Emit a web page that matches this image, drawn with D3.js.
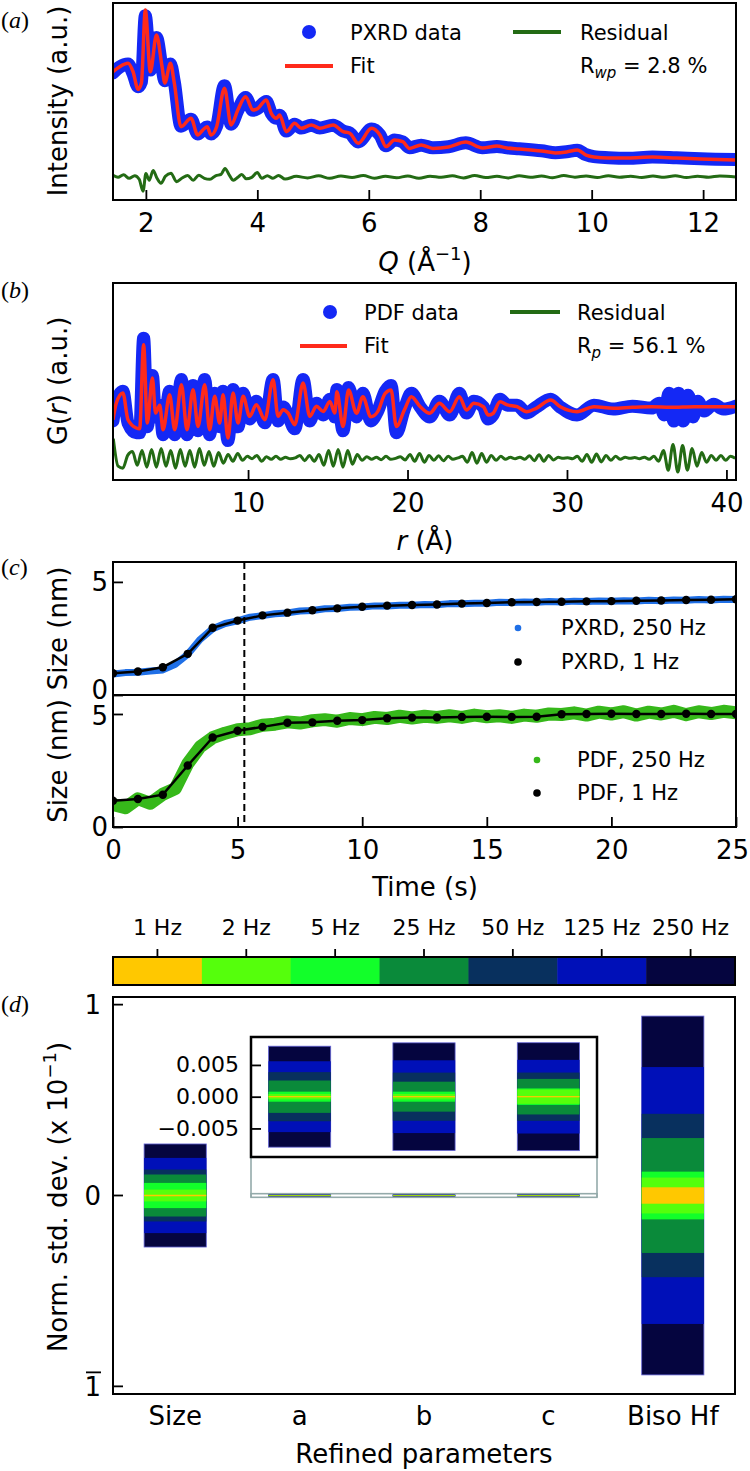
<!DOCTYPE html>
<html><head><meta charset="utf-8">
<script src="https://cdn.jsdelivr.net/npm/d3@7"></script>
<style>body{margin:0;background:#fff}svg{display:block}text{font-family:"DejaVu Sans",sans-serif;fill:#000}</style>
</head><body><svg id="c" width="750" height="1471"></svg>
<script>
// ---------------- DATA ----------------
// (a) PXRD
const pxrdQ = [1.41,1.53,1.68,1.77,1.86,1.92,1.99,2.08,2.19,2.29,2.34,2.44,2.51,2.63,2.81,2.93,3.02,3.10,3.17,3.27,3.41,3.53,3.65,3.79,3.92,4.01,4.16,4.25,4.34,4.40,4.52,4.67,4.79,4.97,5.12,5.36,5.54,5.66,5.81,6.05,6.20,6.31,6.46,6.61,6.73,6.94,7.15,7.43,7.74,8.04,8.30,8.48,8.70,8.91,9.10,9.35,9.55,9.74,9.90,10.04,10.30,10.65,11.09,11.52,11.96,12.59];
const pxrdFit = [65.1,67.7,69.4,65.1,56.2,59.4,96.4,65.1,83.8,67.7,59.4,69.4,59.4,37.2,41.5,33.0,35.5,37.2,33.0,37.2,56.7,38.1,45.7,52.4,45.7,46.5,50.8,44.0,41.5,43.1,34.7,38.9,36.4,38.1,36.4,38.1,34.7,33.9,28.8,36.4,33.0,27.1,30.5,29.6,26.2,27.9,26.2,26.9,29.4,26.4,27.4,26.4,25.9,25.4,24.9,23.9,24.4,25.4,22.8,21.8,21.3,21.3,21.8,21.3,20.8,20.3];
const pxrdObs = [64.5,67.5,69.0,64.0,57.5,60.0,93.5,66.0,82.5,67.0,60.5,69.0,60.0,37.5,41.0,33.5,35.5,37.0,33.5,37.5,58.0,38.5,45.5,52.0,45.5,46.5,50.0,44.0,41.5,43.0,35.0,38.5,36.5,38.0,36.5,38.0,35.0,34.0,29.5,36.0,33.0,27.5,30.5,29.5,26.5,27.8,26.5,27.0,29.0,26.5,27.2,26.5,26.0,25.5,25.0,24.0,24.5,25.2,23.0,22.0,21.5,21.2,21.8,21.4,20.9,20.5];
const pxrdResQ = [1.41,1.5,1.6,1.7,1.8,1.88,1.95,2.0,2.06,2.13,2.2,2.27,2.35,2.45,2.55,2.65,2.75,2.85,2.95,3.05,3.15,3.25,3.35,3.42,3.5,3.57,3.65,3.72,3.8,3.9,4.0,4.08,4.18,4.28,4.38,4.5,4.7,4.9,5.1,5.3,5.5,5.7,5.9,6.1,6.3,6.5,6.7,6.9,7.1,7.3,7.5,7.7,7.9,8.1,8.3,8.5,8.7,8.9,9.1,9.3,9.5,9.7,9.9,10.1,10.3,10.5,10.7,10.9,11.1,11.3,11.5,11.7,11.9,12.1,12.3,12.59];
const pxrdRes = [12.5,11.5,12.8,11.0,12.3,10.5,4.5,13.5,10.0,15.0,11.0,8.5,12.0,13.6,9.3,11.2,12.5,10.0,12.6,11.0,10.5,12.3,13.0,16.0,12.5,10.0,11.5,13.0,10.8,11.5,14.0,11.0,12.3,11.0,12.5,10.6,12.0,11.2,12.3,11.0,12.2,11.4,12.4,11.1,12.0,11.3,12.2,11.0,12.1,11.5,12.3,11.2,12.4,11.4,12.0,11.2,12.3,11.5,12.2,11.3,12.4,11.6,12.2,11.4,12.3,11.6,12.1,11.4,12.2,11.5,12.3,11.4,12.1,11.6,12.2,11.7];
const pxrdTicks = [2,4,6,8,10,12];

// (b) PDF
const pdfFitR = [1.53,1.74,2.15,2.47,2.99,3.2,3.45,3.68,4.0,4.2,4.46,4.67,5.08,5.4,5.82,6.17,6.55,6.86,7.28,7.59,7.91,8.22,8.43,8.74,9.06,9.37,9.69,10.1,10.52,11.05,11.57,11.88,12.2,12.51,12.93,13.45,13.87,14.29,14.71,15.13,15.44,15.57,15.96,16.3,16.8,17.2,17.7,18.13,18.6,18.97,19.3,19.8,20.24,20.8,21.4,22.0,22.65,23.25,23.7,24.16,24.76,25.06,25.36,25.8,26.26,26.87,27.47,28.07,28.98,29.58,30.63,31.69,32.9,34.1,35.3,36.5,38.0,40.6];
const pdfFitG = [30.6,39.1,44.2,30.6,26.4,26.0,68.7,28.9,51.8,34.0,38.0,25.5,43.3,25.5,48.4,25.5,45.8,27.2,48.4,25.5,42.5,28.9,43.3,21.3,44.2,28.9,42.5,32.3,38.2,30.6,50.9,32.3,35.7,34.0,28.1,49.2,32.3,37.4,34.8,39.9,34.0,44.8,27.1,45.7,33.9,42.3,32.1,34.7,44.0,45.7,27.1,35.5,42.3,37.2,33.9,38.9,34.7,42.3,35.5,38.9,37.2,33.0,33.8,39.7,38.1,37.2,34.7,36.4,40.6,37.2,34.7,37.2,36.4,36.9,37.2,36.9,37.2,37.2];
const pdfObsR = [1.53,1.74,2.15,2.47,2.99,3.2,3.45,3.68,4.0,4.2,4.46,4.67,5.08,5.4,5.82,6.17,6.55,6.86,7.28,7.59,7.91,8.22,8.43,8.74,9.06,9.37,9.69,10.1,10.52,11.05,11.57,11.88,12.2,12.51,12.93,13.45,13.87,14.29,14.71,15.13,15.44,15.57,15.96,16.3,16.8,17.2,17.7,18.13,18.6,18.97,19.3,19.8,20.24,20.8,21.4,22.0,22.65,23.25,23.7,24.16,24.76,25.06,25.36,25.8,26.26,26.87,27.47,28.07,28.98,29.58,30.63,31.69,32.9,34.1,35.3,35.8,36.1,36.4,36.7,37.0,37.3,37.6,37.9,38.2,38.6,39.2,39.8,40.6];
const pdfObsG = [30,40,45,29,24,24,72,27,53,32,38,23,45,23,51,23,48,25,51,23,44,27,45,20,46,27,44,31,40,29,51,30,37,33,26,51,30,39,33,41,32,46,25,47,32,44,30,35,45,48,24,36,44,37,32,40,33,44,34,40,37,31,33,41,38,38,34,37,41,37,33,38,36,37.5,36.5,39,33,44,30,44,30,43,32,40,35,38.5,36,37.5];
const pdfResStart = 1.55, pdfResStep = 0.3;
const pdfRes = [21.0,7.0,6.0,12.5,14.5,7.5,15.0,6.5,15.5,6.5,16.0,7.0,15.0,6.0,15.5,7.0,15.0,6.5,16.0,7.5,14.5,7.0,14.0,8.5,13.0,9.5,13.5,10.0,12.0,10.8,12.5,9.5,11.8,10.5,12.0,10.5,11.5,10.8,11.2,12.5,9.8,12.5,9.5,13.0,7.5,15.0,7.0,15.5,6.5,15.0,8.0,13.0,10.0,11.8,10.5,11.5,10.3,12.0,10.5,11.0,11.8,10.2,13.0,9.5,13.5,9.0,12.5,10.0,12.3,9.8,12.0,10.5,11.2,12.0,9.0,14.0,8.5,13.5,9.0,12.5,10.0,12.0,10.5,11.5,10.8,11.6,10.5,12.3,9.8,12.8,9.5,12.5,10.2,11.5,11.0,11.3,10.8,12.0,9.5,13.0,9.0,13.2,9.2,12.5,10.0,12.0,10.5,11.5,11.0,11.4,10.8,11.6,10.5,12.0,9.5,15.0,5.0,18.0,4.0,17.5,5.0,16.0,7.0,14.0,9.0,12.5,10.0,12.5,10.0,12.0,11.0];
const pdfTicks = [10,20,30,40];

// (c) size vs time
const time1Hz = [0,1,2,3,4,5,6,7,8,9,10,11,12,13,14,15,16,17,18,19,20,21,22,23,24,25];
const pxrd1Hz = [0.96,1.04,1.23,1.82,2.97,3.29,3.52,3.64,3.75,3.83,3.90,3.95,3.98,4.00,4.04,4.07,4.10,4.11,4.12,4.14,4.15,4.17,4.18,4.20,4.21,4.23];
const pdf1Hz = [1.16,1.24,1.43,2.72,3.96,4.26,4.43,4.61,4.63,4.70,4.73,4.81,4.84,4.85,4.87,4.88,4.87,4.88,4.99,5.00,5.01,5.00,5.00,5.01,5.00,5.00];
const fastStart = 0, fastStep = 0.5;
const pxrd250Hz = [0.93,0.99,1.01,1.06,1.11,1.36,1.80,2.46,2.93,3.16,3.28,3.44,3.51,3.59,3.63,3.71,3.74,3.81,3.82,3.88,3.89,3.94,3.94,3.97,3.97,4.00,3.99,4.04,4.03,4.06,4.06,4.10,4.09,4.11,4.10,4.13,4.11,4.15,4.13,4.16,4.14,4.17,4.16,4.19,4.17,4.20,4.19,4.22,4.20,4.23,4.22];
const pdf250Hz = [1.0,0.85,1.25,1.05,1.45,1.7,2.8,3.55,3.95,4.15,4.3,4.35,4.5,4.55,4.65,4.6,4.7,4.75,4.68,4.8,4.75,4.85,4.8,4.9,4.82,4.9,4.85,4.92,4.85,4.95,4.88,4.92,4.85,4.95,4.9,5.0,4.98,5.05,4.95,5.08,5.0,5.1,4.95,5.08,5.0,5.12,4.97,5.1,5.02,5.12,5.05];
const timeTicks = [0,5,10,15,20,25];
const dashedTime = 5.27;

// colorbar / (d)
const freqs = ["1 Hz","2 Hz","5 Hz","25 Hz","50 Hz","125 Hz","250 Hz"];
const freqColors = ["#ffc800","#55ff0c","#12ff2a","#0a8a3a","#08305e","#0010b8","#05053f"];
const params = ["Size","a","b","c","Biso Hf"];
const stdSize = [0.004,0.031,0.066,0.110,0.136,0.197,0.270];
const stdA = [0.0001,0.00042,0.00079,0.00255,0.00387,0.00558,0.00795];
const stdB = [0.0001,0.00042,0.00079,0.00236,0.00379,0.00573,0.00848];
const stdC = [0.0001,0.00113,0.0013,0.0028,0.0038,0.0058,0.0085];
const stdBiso = [0.043,0.094,0.125,0.301,0.428,0.673,0.940];
const insetTicks = [-0.005,0,0.005];

// ---------------- DRAWING ----------------
const svg = d3.select('#c');
const FS = 26, LFS = 21;
const L = 113, R = 736;
const BLUE = "#1428f5", RED = "#ff2a1a", DGREEN = "#236b14";

function clip(id, x0, y0, x1, y1) {
  svg.append('clipPath').attr('id', id).append('rect')
    .attr('x', x0).attr('y', y0).attr('width', x1 - x0).attr('height', y1 - y0);
}
function frame(x0, y0, x1, y1, w) {
  svg.append('rect').attr('x', x0).attr('y', y0).attr('width', x1 - x0).attr('height', y1 - y0)
    .attr('fill', 'none').attr('stroke', '#000').attr('stroke-width', w || 2);
}
function styleAxis(g, fs) {
  g.select('.domain').remove();
  g.attr('font-family', null).attr('font-size', null);
  g.selectAll('text').attr('font-size', fs).style('font-family', '"DejaVu Sans"');
  g.selectAll('line').attr('stroke', '#000').attr('stroke-width', 1.8);
}
function letter(txt, x, y) {
  const t = svg.append('text').attr('x', x).attr('y', y).attr('font-size', 24)
    .style('font-family', '"Liberation Serif",serif');
  t.append('tspan').text('(');
  t.append('tspan').attr('font-style', 'italic').text(txt);
  t.append('tspan').text(')');
}
function yLabel(cy) {
  return svg.append('text').attr('transform', `translate(58,${cy}) rotate(-90)`)
    .attr('text-anchor', 'middle').attr('dy', '0.35em').attr('font-size', FS);
}

// ---------- Panel (a) ----------
{
  const T = 3, B = 200;
  const x = d3.scaleLinear().domain([1.41, 12.59]).range([L, R]);
  const y = d3.scaleLinear().domain([0, 100]).range([B, T]);
  clip('clipA', L, T, R, B);
  const line = d3.line().x(d => x(d[0])).y(d => y(d[1])).curve(d3.curveMonotoneX);
  const g = svg.append('g').attr('clip-path', 'url(#clipA)');
  g.append('path').attr('d', line(d3.zip(pxrdQ, pxrdObs))).attr('fill', 'none')
    .attr('stroke', BLUE).attr('stroke-width', 13).attr('stroke-linejoin', 'round').attr('stroke-linecap', 'round');
  g.append('path').attr('d', line(d3.zip(pxrdQ, pxrdFit))).attr('fill', 'none')
    .attr('stroke', RED).attr('stroke-width', 3.5).attr('stroke-linejoin', 'round');
  g.append('path').attr('d', line(d3.zip(pxrdResQ, pxrdRes))).attr('fill', 'none')
    .attr('stroke', DGREEN).attr('stroke-width', 3).attr('stroke-linejoin', 'round');
  frame(L, T, R, B);
  const ax = svg.append('g').attr('transform', `translate(0,${B})`)
    .call(d3.axisBottom(x).tickValues(pxrdTicks).tickSize(-10).tickPadding(13.5).tickFormat(d3.format('d')));
  styleAxis(ax, FS);
  // legend
  svg.append('circle').attr('cx', 309).attr('cy', 32).attr('r', 7).attr('fill', BLUE);
  svg.append('text').attr('x', 350).attr('y', 40).attr('font-size', LFS).text('PXRD data');
  svg.append('line').attr('x1', 285).attr('x2', 333).attr('y1', 66).attr('y2', 66).attr('stroke', RED).attr('stroke-width', 4);
  svg.append('text').attr('x', 350).attr('y', 73).attr('font-size', LFS).text('Fit');
  svg.append('line').attr('x1', 513).attr('x2', 561).attr('y1', 32).attr('y2', 32).attr('stroke', DGREEN).attr('stroke-width', 4);
  svg.append('text').attr('x', 580).attr('y', 40).attr('font-size', LFS).text('Residual');
  const rw = svg.append('text').attr('x', 580).attr('y', 73).attr('font-size', LFS);
  rw.append('tspan').text('R');
  rw.append('tspan').attr('font-size', 15).attr('font-style', 'italic').attr('dy', 5).text('wp');
  rw.append('tspan').attr('dy', -5).text(' = 2.8 %');
  // labels
  yLabel(101).text('Intensity (a.u.)');
  const xl = svg.append('text').attr('x', 425).attr('y', 271).attr('text-anchor', 'middle').attr('font-size', FS);
  xl.append('tspan').attr('font-style', 'italic').text('Q');
  xl.append('tspan').text(' (Å');
  xl.append('tspan').attr('font-size', 18).attr('dy', -11).text('−1');
  xl.append('tspan').attr('dy', 11).text(')');
  letter('a', 1, 28);
}

// ---------- Panel (b) ----------
{
  const T = 283, B = 480;
  const x = d3.scaleLinear().domain([1.53, 40.6]).range([L, R]);
  const y = d3.scaleLinear().domain([0, 100]).range([B, T]);
  clip('clipB', L, T, R, B);
  const line = d3.line().x(d => x(d[0])).y(d => y(d[1])).curve(d3.curveMonotoneX);
  const g = svg.append('g').attr('clip-path', 'url(#clipB)');
  g.append('path').attr('d', line(d3.zip(pdfObsR, pdfObsG))).attr('fill', 'none')
    .attr('stroke', BLUE).attr('stroke-width', 13).attr('stroke-linejoin', 'round').attr('stroke-linecap', 'round');
  g.append('path').attr('d', line(d3.zip(pdfFitR, pdfFitG))).attr('fill', 'none')
    .attr('stroke', RED).attr('stroke-width', 3.5).attr('stroke-linejoin', 'round');
  const resPts = pdfRes.map((v, i) => [pdfResStart + i * pdfResStep, v]);
  g.append('path').attr('d', line(resPts)).attr('fill', 'none')
    .attr('stroke', DGREEN).attr('stroke-width', 3).attr('stroke-linejoin', 'round');
  frame(L, T, R, B);
  const ax = svg.append('g').attr('transform', `translate(0,${B})`)
    .call(d3.axisBottom(x).tickValues(pdfTicks).tickSize(-10).tickPadding(13.5).tickFormat(d3.format('d')));
  styleAxis(ax, FS);
  svg.append('circle').attr('cx', 330).attr('cy', 312).attr('r', 7).attr('fill', BLUE);
  svg.append('text').attr('x', 364).attr('y', 320).attr('font-size', LFS).text('PDF data');
  svg.append('line').attr('x1', 300).attr('x2', 347).attr('y1', 346).attr('y2', 346).attr('stroke', RED).attr('stroke-width', 4);
  svg.append('text').attr('x', 364).attr('y', 353).attr('font-size', LFS).text('Fit');
  svg.append('line').attr('x1', 510).attr('x2', 560).attr('y1', 312).attr('y2', 312).attr('stroke', DGREEN).attr('stroke-width', 4);
  svg.append('text').attr('x', 577).attr('y', 320).attr('font-size', LFS).text('Residual');
  const rp = svg.append('text').attr('x', 577).attr('y', 353).attr('font-size', LFS);
  rp.append('tspan').text('R');
  rp.append('tspan').attr('font-size', 15).attr('font-style', 'italic').attr('dy', 5).text('p');
  rp.append('tspan').attr('dy', -5).text(' = 56.1 %');
  const yl = yLabel(381);
  yl.append('tspan').text('G(');
  yl.append('tspan').attr('font-style', 'italic').text('r');
  yl.append('tspan').text(') (a.u.)');
  const xl = svg.append('text').attr('x', 425).attr('y', 550).attr('text-anchor', 'middle').attr('font-size', FS);
  xl.append('tspan').attr('font-style', 'italic').text('r');
  xl.append('tspan').text(' (Å)');
  letter('b', 1, 298);
}

// ---------- Panel (c) ----------
{
  const T = 562, M = 695, B = 827;
  const x = d3.scaleLinear().domain([0, 25]).range([L, R]);
  const yT = d3.scaleLinear().domain([0, 5.88]).range([M, T]);
  const yB = d3.scaleLinear().domain([0, 5.84]).range([B, M]);
  clip('clipCT', L, T, R, M);
  clip('clipCB', L, M, R, B);
  const fastT = pxrd250Hz.map((v, i) => fastStart + i * fastStep);
  function sub(id, y, fast, slow, fastColor, fastW) {
    const g = svg.append('g').attr('clip-path', `url(#${id})`);
    const line = d3.line().x(d => x(d[0])).y(d => y(d[1]));
    g.append('path').attr('d', line(d3.zip(fastT, fast))).attr('fill', 'none')
      .attr('stroke', fastColor).attr('stroke-width', fastW).attr('stroke-linejoin', 'round').attr('stroke-linecap', 'round');
    g.append('path').attr('d', line(d3.zip(time1Hz, slow))).attr('fill', 'none')
      .attr('stroke', '#000').attr('stroke-width', 2.5);
    g.selectAll('circle.s').data(d3.zip(time1Hz, slow)).join('circle')
      .attr('cx', d => x(d[0])).attr('cy', d => y(d[1])).attr('r', 4.2).attr('fill', '#000');
  }
  sub('clipCT', yT, pxrd250Hz, pxrd1Hz, '#1f6fe6', 7);
  sub('clipCB', yB, pdf250Hz, pdf1Hz, '#36b81a', 13);
  svg.append('line').attr('x1', x(dashedTime)).attr('x2', x(dashedTime)).attr('y1', T).attr('y2', B)
    .attr('stroke', '#000').attr('stroke-width', 2).attr('stroke-dasharray', '7,4');
  frame(L, T, R, M);
  frame(L, M, R, B);
  const ayT = svg.append('g').attr('transform', `translate(${L},0)`)
    .call(d3.axisLeft(yT).tickValues([0, 5]).tickSize(-10).tickPadding(5).tickFormat(d3.format('d')));
  styleAxis(ayT, FS);
  ayT.selectAll('text').filter(d => d === 0).attr('dy', '0.14em');
  const ayB = svg.append('g').attr('transform', `translate(${L},0)`)
    .call(d3.axisLeft(yB).tickValues([0, 5]).tickSize(-10).tickPadding(5).tickFormat(d3.format('d')));
  styleAxis(ayB, FS);
  ayB.selectAll('text').filter(d => d === 5).attr('dy', '0.42em');
  const ax = svg.append('g').attr('transform', `translate(0,${B})`)
    .call(d3.axisBottom(x).tickValues(timeTicks).tickSize(-10).tickPadding(13.5).tickFormat(d3.format('d')));
  styleAxis(ax, FS);
  ax.selectAll('text').filter(d => d === 25).attr('dx', -4);
  // legends
  svg.append('circle').attr('cx', 518).attr('cy', 628).attr('r', 3.3).attr('fill', '#1f6fe6');
  svg.append('text').attr('x', 561).attr('y', 635).attr('font-size', LFS).text('PXRD, 250 Hz');
  svg.append('circle').attr('cx', 518).attr('cy', 662).attr('r', 3.8).attr('fill', '#000');
  svg.append('text').attr('x', 561).attr('y', 669).attr('font-size', LFS).text('PXRD, 1 Hz');
  svg.append('circle').attr('cx', 537).attr('cy', 760).attr('r', 3.3).attr('fill', '#36b81a');
  svg.append('text').attr('x', 577).attr('y', 767).attr('font-size', LFS).text('PDF, 250 Hz');
  svg.append('circle').attr('cx', 537).attr('cy', 793).attr('r', 3.8).attr('fill', '#000');
  svg.append('text').attr('x', 577).attr('y', 800).attr('font-size', LFS).text('PDF, 1 Hz');
  yLabel(628.5).text('Size (nm)');
  yLabel(761).text('Size (nm)');
  svg.append('text').attr('x', 425).attr('y', 896).attr('text-anchor', 'middle').attr('font-size', FS).text('Time (s)');
  letter('c', 1, 575);
}

// ---------- Colorbar ----------
{
  const T = 957, B = 985, CR = 735;
  const x = d3.scaleBand().domain(freqs).range([L, CR]);
  svg.selectAll('rect.cb').data(freqs).join('rect').attr('class', 'cb')
    .attr('x', d => x(d)).attr('y', T).attr('width', x.bandwidth() + 0.5).attr('height', B - T)
    .attr('fill', (d, i) => freqColors[i]);
  frame(L, T, CR, B, 2);
  const ax = svg.append('g').attr('transform', `translate(0,${T})`)
    .call(d3.axisTop(x).tickSize(8).tickPadding(14));
  styleAxis(ax, 22);
}

// ---------- Panel (d) ----------
{
  const T = 997, B = 1394, DR = 735;
  const x = d3.scaleBand().domain(params).range([L, DR]).paddingInner(0.5).paddingOuter(0.25);
  const y = d3.scaleLinear().domain([-1.04, 1.04]).range([B, T]);
  const stds = [stdSize, stdA, stdB, stdC, stdBiso];
  clip('clipD', L, T, DR, B);
  function bars(g, yS) {
    params.forEach((p, pi) => {
      const vals = stds[pi];
      const order = d3.range(vals.length).reverse();
      g.selectAll(null).data(order).join('rect')
        .attr('x', x(p)).attr('width', x.bandwidth())
        .attr('y', i => yS(vals[i])).attr('height', i => Math.max(0.6, yS(-vals[i]) - yS(vals[i])))
        .attr('fill', i => freqColors[i])
        .attr('stroke', i => i === vals.length - 1 ? '#6464d6' : 'none').attr('stroke-width', 0.8);
    });
  }
  const gMain = svg.append('g').attr('clip-path', 'url(#clipD)');
  bars(gMain, y);
  // inset
  const IL = 251, IR = 597, IT = 1037, IB = 1157;
  const yi = d3.scaleLinear().domain([-0.0095, 0.0094]).range([IB, IT]);
  const indTop = y(0.0095), indBot = y(-0.0095);
  svg.append('rect').attr('x', IL).attr('y', indTop).attr('width', IR - IL).attr('height', indBot - indTop)
    .attr('fill', 'none').attr('stroke', '#94aaaa').attr('stroke-width', 1.6);
  svg.append('line').attr('x1', IL).attr('x2', IL).attr('y1', IB).attr('y2', indBot).attr('stroke', '#94aaaa').attr('stroke-width', 1.6);
  svg.append('line').attr('x1', IR).attr('x2', IR).attr('y1', IB).attr('y2', indBot).attr('stroke', '#94aaaa').attr('stroke-width', 1.6);
  svg.append('rect').attr('x', IL).attr('y', IT).attr('width', IR - IL).attr('height', IB - IT).attr('fill', '#fff');
  clip('clipI', IL, IT, IR, IB);
  const gIn = svg.append('g').attr('clip-path', 'url(#clipI)');
  bars(gIn, yi);
  frame(IL, IT, IR, IB, 2.5);
  const ayi = svg.append('g').attr('transform', `translate(${IL},0)`)
    .call(d3.axisLeft(yi).tickValues(insetTicks).tickSize(-10).tickPadding(12)
      .tickFormat(d => (d < 0 ? '−' : '') + Math.abs(d).toFixed(3)));
  styleAxis(ayi, 22);
  frame(L, T, DR, B);
  // y ticks (drawn with scale)
  const yTicks = [1, 0, -1];
  yTicks.forEach(v => {
    svg.append('line').attr('x1', L).attr('x2', L + 10).attr('y1', y(v)).attr('y2', y(v)).attr('stroke', '#000').attr('stroke-width', 1.8);
    svg.append('text').attr('x', 101).attr('y', y(v)).attr('dy', '0.36em').attr('text-anchor', 'end')
      .attr('font-size', FS).text(Math.abs(v));
    if (v < 0) svg.append('line').attr('x1', 86).attr('x2', 101).attr('y1', y(v) - 14).attr('y2', y(v) - 14)
      .attr('stroke', '#000').attr('stroke-width', 1.8);
  });
  svg.selectAll('text.cat').data(params).join('text').attr('class', 'cat')
    .attr('x', d => x(d) + x.bandwidth() / 2).attr('y', 1425).attr('text-anchor', 'middle')
    .attr('font-size', FS).text(d => d);
  svg.append('text').attr('x', 424).attr('y', 1463).attr('text-anchor', 'middle').attr('font-size', FS).text('Refined parameters');
  const yl = yLabel(1197);
  yl.append('tspan').text('Norm. std. dev. (x 10');
  yl.append('tspan').attr('font-size', 18).attr('dy', -11).text('−1');
  yl.append('tspan').attr('dy', 11).text(')');
  letter('d', 1, 1012);
}
</script></body></html>
